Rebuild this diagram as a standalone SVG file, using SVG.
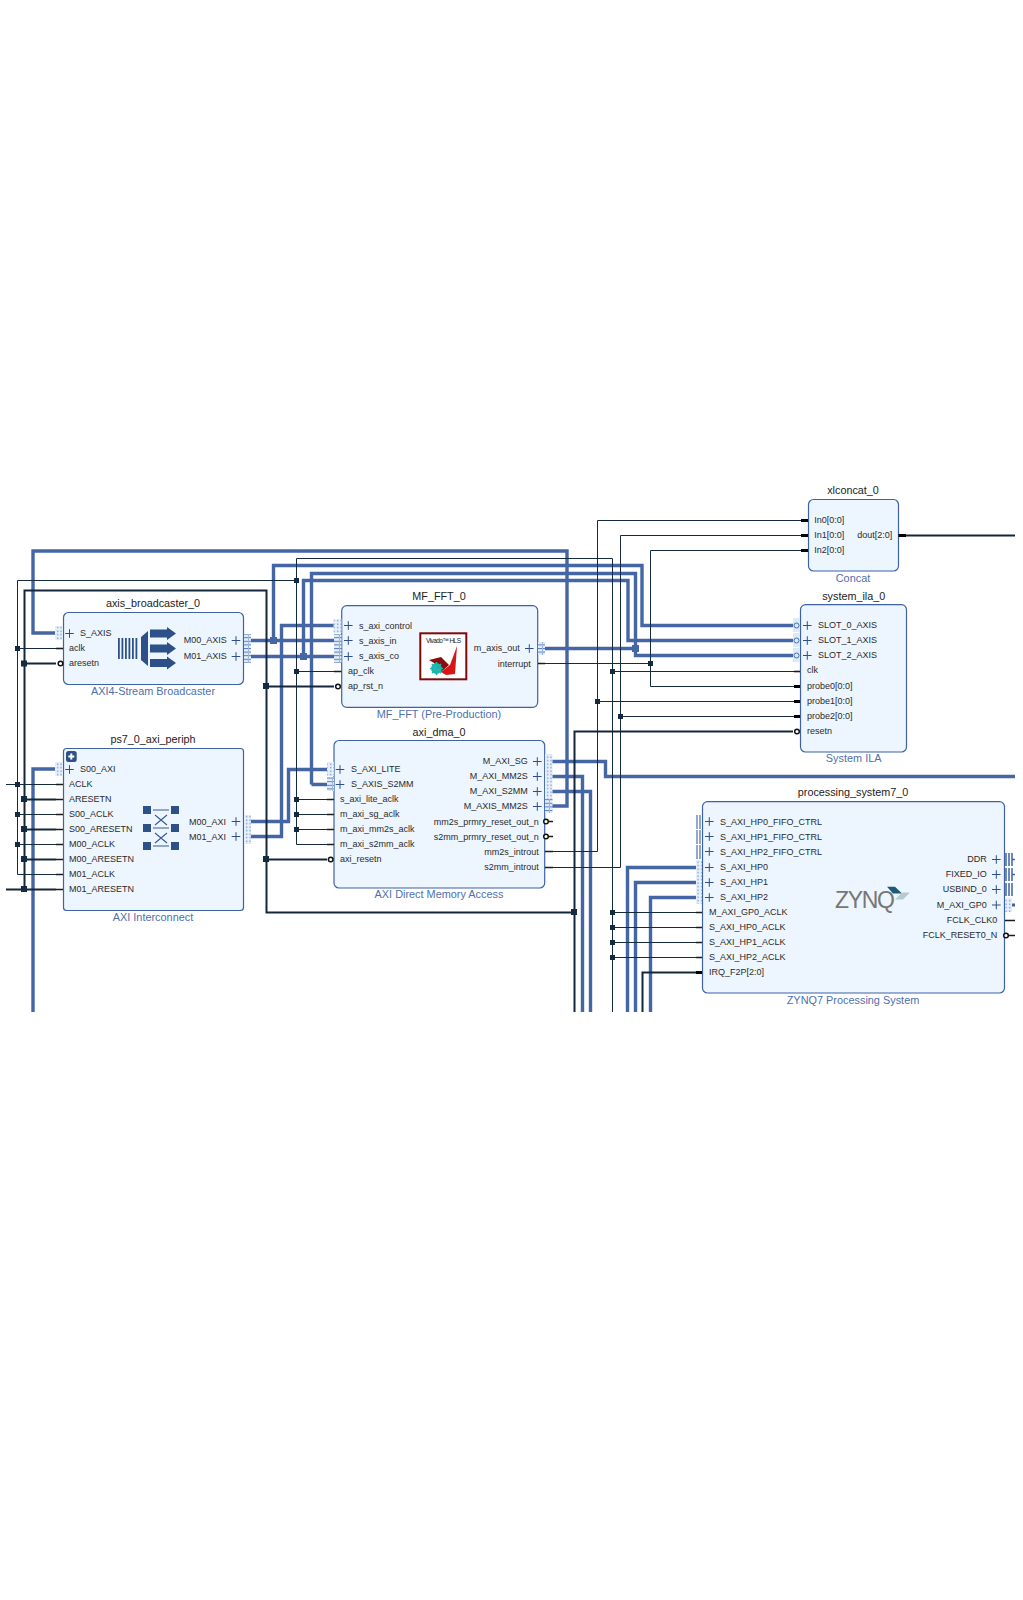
<svg xmlns="http://www.w3.org/2000/svg" width="1023" height="1600" viewBox="0 0 1023 1600">
<style>
text{font-family:"Liberation Sans",Arial,sans-serif;font-size:9px;fill:#2b2b2b}
.t{font-size:10.8px;text-anchor:middle;fill:#222}
.l{font-size:10.9px;text-anchor:middle;fill:#4f6fae}
.e{text-anchor:end}
.b{fill:#edf5fe;stroke:#3f62a3;stroke-width:1.2}
.w{fill:none;stroke:#142a40;stroke-width:1}
.h{fill:none;stroke:#16263a;stroke-width:2}
.x{fill:none;stroke:#4566a5;stroke-width:3.4}
.s{stroke:#1c1c1c;stroke-width:1.6;fill:none}
.sb{stroke:#000;stroke-width:3;fill:none}
.c{fill:#fff;stroke:#111;stroke-width:1.5}
.p{stroke:#2f4f8c;stroke-width:1;fill:none}
.ic{fill:#2d5088}
.jw{fill:#142a40}
.jx{fill:#4566a5}
.d{fill:url(#dots)}
.g{fill:url(#grid)}
.m{fill:#dbe9f8}
</style>
<defs>
<pattern id="dots" width="3.5" height="3.5" patternUnits="userSpaceOnUse">
<rect width="3.5" height="3.5" fill="#e6f0fb"/>
<rect x="1" y="0.5" width="1.2" height="1.4" fill="#6f90c4"/>
</pattern>
<pattern id="grid" width="7" height="3.6" patternUnits="userSpaceOnUse">
<rect width="7" height="3.6" fill="#e2edf9"/>
<rect y="0" width="7" height="1" fill="#5a7eb8"/>
<rect x="3" width="1" height="3.6" fill="#9db6dc"/>
</pattern>
<path id="plus" d="M-4.300 0H4.300M0-4.300V4.300" class="p"/>
<rect id="j" x="-2.500" y="-2.500" width="5" height="5" class="jw"/>
<rect id="J" x="-3" y="-3" width="6" height="6" class="jw"/>
<rect id="X" x="-3.500" y="-3.500" width="7" height="7" class="jx"/>
</defs>
<g id="connectors">
<path class="x" d="M55 633H33V551H567V806H548"/>
<path class="x" d="M33 1012V769H55"/>
<path class="x" d="M249 640.500H337M273.500 640.500V565.500H642V625.500H795"/>
<path class="x" d="M249 656.500H337M303.500 656.500V580.500H628V640.500H795"/>
<path class="x" d="M311.500 784.500V573.500H635.500V655.500H795M311.500 784.500H330"/>
<path class="x" d="M540 648.500H635.500"/>
<path class="x" d="M249 821.500H288.500V769.500H330"/>
<path class="x" d="M249 836.500H281.500V625.500H336"/>
<path class="x" d="M548 761.500H605.500V776.500H1015"/>
<path class="x" d="M548 776.500H582.500V1012"/>
<path class="x" d="M548 791.500H590.500V1012"/>
<path class="x" d="M696 867.500H627.500V1012"/>
<path class="x" d="M696 882.500H635.500V1012"/>
<path class="x" d="M696 897.500H650.500V1012"/>
<path class="w" d="M296.500 844.500V558.500H612.500V1012"/>
<path class="w" d="M17.500 648.500H56M17.500 874.500V580.500H296.500"/>
<path class="w" d="M6 784.500H56M17.500 814.500H56M17.500 844.500H56M17.500 874.500H56"/>
<path class="w" d="M296.500 671.500H334M296.500 799.500H327M296.500 814.500H327M296.500 829.500H327M296.500 844.500H327"/>
<path class="w" d="M552 851.500H597.500V520.500H801"/>
<path class="w" d="M552 867.500H620.500V535.500H801"/>
<path class="w" d="M545 663.500H650.500M650.500 550.500H801M650.500 550.500V686.500H794"/>
<path class="w" d="M612.500 671.500H794M597.500 701.500H794M620.500 716.500H794"/>
<path class="w" d="M612.500 912.500H696M612.500 927.500H696M612.500 942.500H696M612.500 957.500H696"/>
<path class="h" d="M24.500 889V590.500H266.500V912.500H574.500"/>
<path class="h" d="M6 889.500H56M24.500 663.500H56M24.500 799.500H56M24.500 829.500H56M24.500 859.500H56"/>
<path class="h" d="M266.500 686.500H334M266.500 859.500H327"/>
<path class="h" d="M574.500 1012V731.500H793"/>
<path class="h" d="M642.500 1012V972.500H696"/>
<path class="h" d="M906 535.500H1015"/>
<use href="#j" x="17.500" y="648.500"/><use href="#j" x="17.500" y="784.500"/><use href="#j" x="17.500" y="814.500"/><use href="#j" x="17.500" y="844.500"/>
<use href="#j" x="296.500" y="580.500"/><use href="#j" x="296.500" y="671.500"/><use href="#j" x="296.500" y="799.500"/><use href="#j" x="296.500" y="814.500"/><use href="#j" x="296.500" y="829.500"/>
<use href="#j" x="650.500" y="663.500"/><use href="#j" x="612.500" y="671.500"/><use href="#j" x="597.500" y="701.500"/><use href="#j" x="620.500" y="716.500"/>
<use href="#j" x="612.500" y="912.500"/><use href="#j" x="612.500" y="927.500"/><use href="#j" x="612.500" y="942.500"/><use href="#j" x="612.500" y="957.500"/>
<use href="#J" x="24" y="663.500"/><use href="#J" x="24" y="799"/><use href="#J" x="24" y="829"/><use href="#J" x="24" y="859"/><use href="#J" x="24" y="889"/>
<use href="#J" x="266" y="686"/><use href="#J" x="266" y="859"/><use href="#J" x="574" y="912"/>
<use href="#X" x="273.500" y="640.500"/><use href="#X" x="303.500" y="656.500"/><use href="#X" x="635.500" y="648.500"/>
</g>
<g id="axis_broadcaster_0">
<text class="t" x="153" y="607">axis_broadcaster_0</text>
<rect class="b" x="63.500" y="612.500" width="180" height="72" rx="5"/>
<rect class="d" x="55" y="626" width="8" height="14"/>
<rect class="g" x="244" y="634" width="7" height="29"/>
<path class="s" d="M56 648.500H63"/><circle class="c" cx="60.500" cy="663.500" r="2.300"/>
<use href="#plus" x="69.500" y="633.500"/><use href="#plus" x="236" y="640.500"/><use href="#plus" x="236" y="656.500"/>
<text x="80" y="636">S_AXIS</text><text x="69" y="651">aclk</text><text x="69" y="666">aresetn</text>
<text class="e" x="226.700" y="643">M00_AXIS</text><text class="e" x="226.700" y="659">M01_AXIS</text>
<path class="ic" d="M118 638h1.800v21H118zM121.500 638h1.800v21h-1.800zM125 638h1.800v21H125zM128.500 638h1.800v21h-1.800zM132 638h1.800v21H132zM135.500 638h1.800v21h-1.800zM141 637l7-6v35l-7-6zM150 629.500h17v-2.500l9 6.500-9 6.500v-2.500h-17zM150 644.500h17v-2.500l9 6.500-9 6.500v-2.500h-17zM150 659h17v-2.500l9 6.500-9 6.500v-2.500h-17z"/>
<text class="l" x="153" y="695">AXI4-Stream Broadcaster</text>
</g>
<g id="ps7_0_axi_periph">
<text class="t" x="153" y="743">ps7_0_axi_periph</text>
<rect class="b" x="63.500" y="748.500" width="180" height="162" rx="3"/>
<rect class="ic" x="66" y="751" width="10.700" height="11" rx="2.500"/>
<path d="M71.300 753.500v6M68.300 756.500h6" stroke="#fff" stroke-width="2" fill="none"/>
<rect class="d" x="55" y="762" width="8" height="14"/>
<rect class="d" x="244" y="815" width="7" height="29"/>
<path class="s" d="M56 784.500H63M56 799.500H63M56 814.500H63M56 829.500H63M56 844.500H63M56 859.500H63M56 874.500H63M56 889.500H63"/>
<use href="#plus" x="69.500" y="769.500"/><use href="#plus" x="236" y="821.500"/><use href="#plus" x="236" y="836.500"/>
<text x="80" y="771.500">S00_AXI</text><text x="69" y="786.500">ACLK</text><text x="69" y="801.500">ARESETN</text><text x="69" y="816.500">S00_ACLK</text><text x="69" y="831.500">S00_ARESETN</text><text x="69" y="846.500">M00_ACLK</text><text x="69" y="861.500">M00_ARESETN</text><text x="69" y="876.500">M01_ACLK</text><text x="69" y="891.500">M01_ARESETN</text>
<text class="e" x="226" y="824.500">M00_AXI</text><text class="e" x="226" y="840">M01_AXI</text>
<path class="ic" d="M143 806h8v8h-8zM143 824h8v8h-8zM143 842h8v8h-8zM171 806h8v8h-8zM171 824h8v8h-8zM171 842h8v8h-8z"/>
<path d="M153 810H169M153 828H169M153 846H169M155 815L167 825M167 815L155 825M155 833L167 843M167 833L155 843" stroke="#3a5a96" stroke-width="1.100" fill="none"/>
<text class="l" x="153" y="921">AXI Interconnect</text>
</g>
<g id="MF_FFT_0">
<text class="t" x="439" y="600">MF_FFT_0</text>
<rect class="b" x="341.700" y="605.700" width="196" height="101.600" rx="5"/>
<rect class="d" x="333.500" y="619" width="8" height="14"/>
<rect class="g" x="334" y="634" width="7.500" height="29"/>
<rect class="g" x="538" y="642" width="7" height="13"/>
<path class="s" d="M334 671.500H341.500M538 663.500H545"/><circle class="c" cx="338" cy="686.500" r="2.300"/>
<use href="#plus" x="348.300" y="625.500"/><use href="#plus" x="348.300" y="640.500"/><use href="#plus" x="348.300" y="656.500"/><use href="#plus" x="529.300" y="648.500"/>
<text x="359" y="628.500">s_axi_control</text><text x="359" y="644">s_axis_in</text><text x="359" y="659">s_axis_co</text><text x="348" y="673.500">ap_clk</text><text x="348" y="689">ap_rst_n</text>
<text class="e" x="519.700" y="651">m_axis_out</text><text class="e" x="530.700" y="666.500">interrupt</text>
<rect x="420.300" y="633.300" width="46" height="46" fill="#fff" stroke="#7d0a0a" stroke-width="2"/>
<text x="426" y="643" textLength="35" style="font-size:6.500px;fill:#222">Vivado™ HLS</text>
<path d="M457 646L455 674L446 675L441 672L450 665Z" fill="#d81616"/>
<path d="M429 660L441 657L449 665L441 672L434 663Z" fill="#8a0c0c"/>
<circle cx="436.500" cy="668.500" r="3.800" fill="none" stroke="#1fb5ad" stroke-width="3.200"/>
<path d="M436.500 662V675M430 668.500H443M432 664L441 673M441 664L432 673" stroke="#1fb5ad" stroke-width="1.500" fill="none"/>
<text class="l" x="439" y="718">MF_FFT (Pre-Production)</text>
</g>
<g id="axi_dma_0">
<text class="t" x="439" y="736">axi_dma_0</text>
<rect class="b" x="334" y="740.500" width="210.700" height="147.500" rx="5"/>
<rect class="d" x="327" y="762" width="7" height="14"/>
<rect class="g" x="327" y="777" width="7" height="14"/>
<rect class="d" x="545" y="754" width="7.500" height="45"/>
<rect class="g" x="545" y="799" width="7.500" height="14"/>
<path class="s" d="M327 799.500H334M327 814.500H334M327 829.500H334M327 844.500H334M545 851.500H553M545 867.500H553M549 821.500H553M549 836.500H553"/>
<circle class="c" cx="330.700" cy="859.500" r="2.300"/><circle class="c" cx="546" cy="821.500" r="2.300"/><circle class="c" cx="546" cy="836.500" r="2.300"/>
<use href="#plus" x="340" y="769.500"/><use href="#plus" x="340" y="784.500"/><use href="#plus" x="537.300" y="761.500"/><use href="#plus" x="537.300" y="776.500"/><use href="#plus" x="537.300" y="791.500"/><use href="#plus" x="537.300" y="806.500"/>
<text x="351" y="771.500">S_AXI_LITE</text><text x="351" y="786.500">S_AXIS_S2MM</text>
<text x="340" y="801.500">s_axi_lite_aclk</text><text x="340" y="816.500">m_axi_sg_aclk</text><text x="340" y="831.500">m_axi_mm2s_aclk</text><text x="340" y="846.500">m_axi_s2mm_aclk</text><text x="340" y="861.500">axi_resetn</text>
<text class="e" x="527.700" y="764">M_AXI_SG</text><text class="e" x="527.700" y="779">M_AXI_MM2S</text><text class="e" x="527.700" y="794">M_AXI_S2MM</text><text class="e" x="527.700" y="809">M_AXIS_MM2S</text>
<text class="e" x="538.700" y="824.500">mm2s_prmry_reset_out_n</text><text class="e" x="538.700" y="839.500">s2mm_prmry_reset_out_n</text><text class="e" x="538.700" y="854.500">mm2s_introut</text><text class="e" x="538.700" y="870">s2mm_introut</text>
<text class="l" x="439" y="898">AXI Direct Memory Access</text>
</g>
<g id="xlconcat_0">
<text class="t" x="853" y="494">xlconcat_0</text>
<rect class="b" x="808.500" y="499.500" width="90" height="71.500" rx="5"/>
<path class="sb" d="M801 520.500H808M801 535.500H808M801 550.500H808M898.500 535.500H906"/>
<text x="814.300" y="522.800">In0[0:0]</text><text x="814.300" y="537.800">In1[0:0]</text><text x="814.300" y="552.800">In2[0:0]</text>
<text class="e" x="892.300" y="537.800">dout[2:0]</text>
<text class="l" x="853" y="582">Concat</text>
</g>
<g id="system_ila_0">
<text class="t" x="853.700" y="600">system_ila_0</text>
<rect class="b" x="800.500" y="604.700" width="106" height="147.300" rx="5"/>
<rect class="m" x="793" y="618" width="7" height="14"/><rect class="m" x="793" y="633" width="7" height="14"/><rect class="m" x="793" y="648" width="7" height="14"/>
<circle cx="796.500" cy="625.500" r="2.500" fill="none" stroke="#4a70b0"/><circle cx="796.500" cy="640.500" r="2.500" fill="none" stroke="#4a70b0"/><circle cx="796.500" cy="655.500" r="2.500" fill="none" stroke="#4a70b0"/>
<path class="s" d="M794 671.500H800"/><path class="sb" d="M794 686.500H800M794 701.500H800M794 716.500H800"/>
<circle class="c" cx="797" cy="731.500" r="2.300"/>
<use href="#plus" x="807.300" y="625.500"/><use href="#plus" x="807.300" y="640.500"/><use href="#plus" x="807.300" y="655.500"/>
<text x="818" y="627.800">SLOT_0_AXIS</text><text x="818" y="642.800">SLOT_1_AXIS</text><text x="818" y="657.800">SLOT_2_AXIS</text>
<text x="807" y="673">clk</text><text x="807" y="688.800">probe0[0:0]</text><text x="807" y="703.800">probe1[0:0]</text><text x="807" y="718.800">probe2[0:0]</text><text x="807" y="734">resetn</text>
<text class="l" x="853.700" y="762">System ILA</text>
</g>
<g id="processing_system7_0">
<text class="t" x="853" y="796">processing_system7_0</text>
<rect class="b" x="702.500" y="801.700" width="302" height="191.300" rx="5"/>
<path d="M697 815V829M700 815V829M697 830V844M700 830V844M697 845V859M700 845V859" stroke="#4a70b0" stroke-width="1.200" fill="none"/>
<rect class="d" x="696" y="860" width="6" height="44"/>
<path class="s" d="M696 912.500H702M696 927.500H702M696 942.500H702M696 957.500H702"/><path class="sb" d="M696 972.500H702"/>
<path d="M1006 853V866M1009 853V866M1012 853V866M1012 859.500H1015M1006 868V881M1009 868V881M1012 868V881M1012 874.500H1015M1006 883V896M1009 883V896M1012 883V896" stroke="#3f62a3" stroke-width="1.500" fill="none"/>
<rect class="d" x="1005" y="898" width="7" height="14"/><path d="M1012 905H1015" stroke="#3f62a3" stroke-width="3"/>
<path class="s" d="M1005 920.500H1015M1008 935.500H1015"/><circle class="c" cx="1006" cy="935.500" r="2.300"/>
<use href="#plus" x="709.300" y="821.500"/><use href="#plus" x="709.300" y="836.500"/><use href="#plus" x="709.300" y="851.500"/><use href="#plus" x="709.300" y="867.500"/><use href="#plus" x="709.300" y="882.500"/><use href="#plus" x="709.300" y="897.500"/>
<use href="#plus" x="996.300" y="859.500"/><use href="#plus" x="996.300" y="874.500"/><use href="#plus" x="996.300" y="889.500"/><use href="#plus" x="996.300" y="905"/>
<text x="720" y="825">S_AXI_HP0_FIFO_CTRL</text><text x="720" y="840">S_AXI_HP1_FIFO_CTRL</text><text x="720" y="855">S_AXI_HP2_FIFO_CTRL</text><text x="720" y="870">S_AXI_HP0</text><text x="720" y="885">S_AXI_HP1</text><text x="720" y="900">S_AXI_HP2</text>
<text x="709" y="915">M_AXI_GP0_ACLK</text><text x="709" y="930">S_AXI_HP0_ACLK</text><text x="709" y="945">S_AXI_HP1_ACLK</text><text x="709" y="960">S_AXI_HP2_ACLK</text><text x="709" y="975">IRQ_F2P[2:0]</text>
<text class="e" x="986.700" y="862">DDR</text><text class="e" x="986.700" y="877">FIXED_IO</text><text class="e" x="986.700" y="892">USBIND_0</text><text class="e" x="986.700" y="908">M_AXI_GP0</text>
<text class="e" x="997.300" y="923">FCLK_CLK0</text><text class="e" x="997.300" y="938">FCLK_RESET0_N</text>
<text x="835" y="908" textLength="60" style="font-size:23px;fill:#777">ZYNQ</text>
<path d="M887 886.700H895L902 893.500H893Z" fill="#1d5a78"/><path d="M902 892.500H910L903 899.500H895Z" fill="#b5cbd3"/>
<text class="l" x="853" y="1004">ZYNQ7 Processing System</text>
</g>
</svg>
